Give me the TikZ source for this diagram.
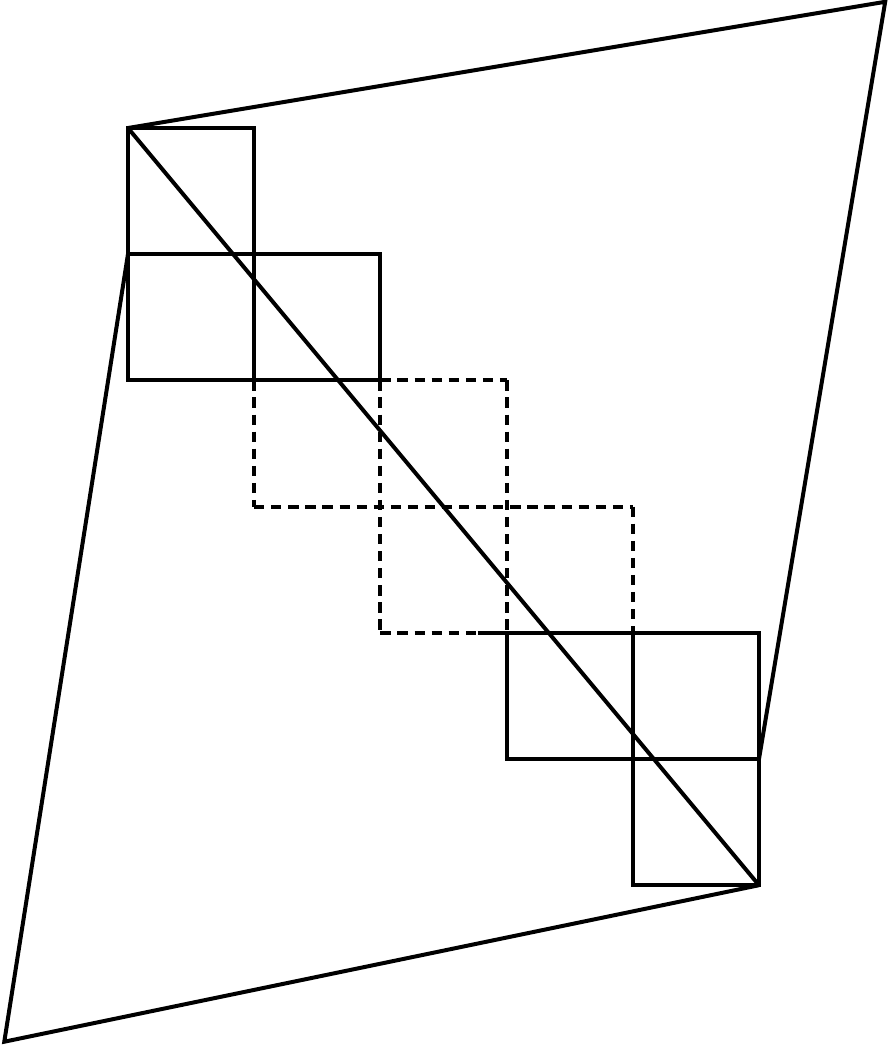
\documentclass[tikz,border=0pt]{standalone}
\usepackage{tikz}
\usetikzlibrary{arrows,%
                positioning}

\begin{document}
\begin{tikzpicture}[x = 1cm, y = 1cm]
  \useasboundingbox (-1.014,-7.274) rectangle (6.022,1.014);
  \tikzset{SquareStyle/.style = {line width     = 0.9pt,
                                 line join      = miter}}
  \tikzset{HiddenStyle/.style = {line width     = 0.9pt,
                                 dash pattern   = on 2.3pt off 1.55pt}}
  \tikzset{EdgeStyle/.style   = {line width     = 0.9pt,
                                 line join      = miter}}
     \coordinate (A) at (0,0);
     \coordinate (B) at (6,1);
     \coordinate (C) at (5,-5);
     \coordinate (D) at (5,-6);
     \coordinate (E) at (-0.98,-7.24);
     \coordinate (F) at (0,-1);
     % squares along the diagonal
     \draw[SquareStyle] (A) rectangle (1,-1);
     \draw[SquareStyle] (F) rectangle (2,-2);
     \draw[SquareStyle] (1,-1) -- (1,-2);
     \draw[HiddenStyle] (2,-2) -- (3,-2);
     \draw[HiddenStyle] (1,-2) -- (1,-3);
     \draw[HiddenStyle] (2,-2) -- (2,-4);
     \draw[HiddenStyle] (3,-2) -- (3,-4);
     \draw[HiddenStyle] (4,-3) -- (4,-4);
     \draw[HiddenStyle] (1,-3) -- (4,-3);
     \draw[HiddenStyle] (2,-4) -- (2.77,-4);
     \draw[SquareStyle] (3,-4) rectangle (C);
     \draw[SquareStyle] (4,-4) -- (4,-6) -- (D) -- (C);
     \draw[SquareStyle] (2.77,-4) -- (3,-4);
     % diagonal and outline
     \draw[EdgeStyle] (A) -- (D);
     \draw[EdgeStyle] (A) -- (B) -- (C);
     \draw[EdgeStyle] (D) -- (E) -- (F);
  \end{tikzpicture}
\end{document}
